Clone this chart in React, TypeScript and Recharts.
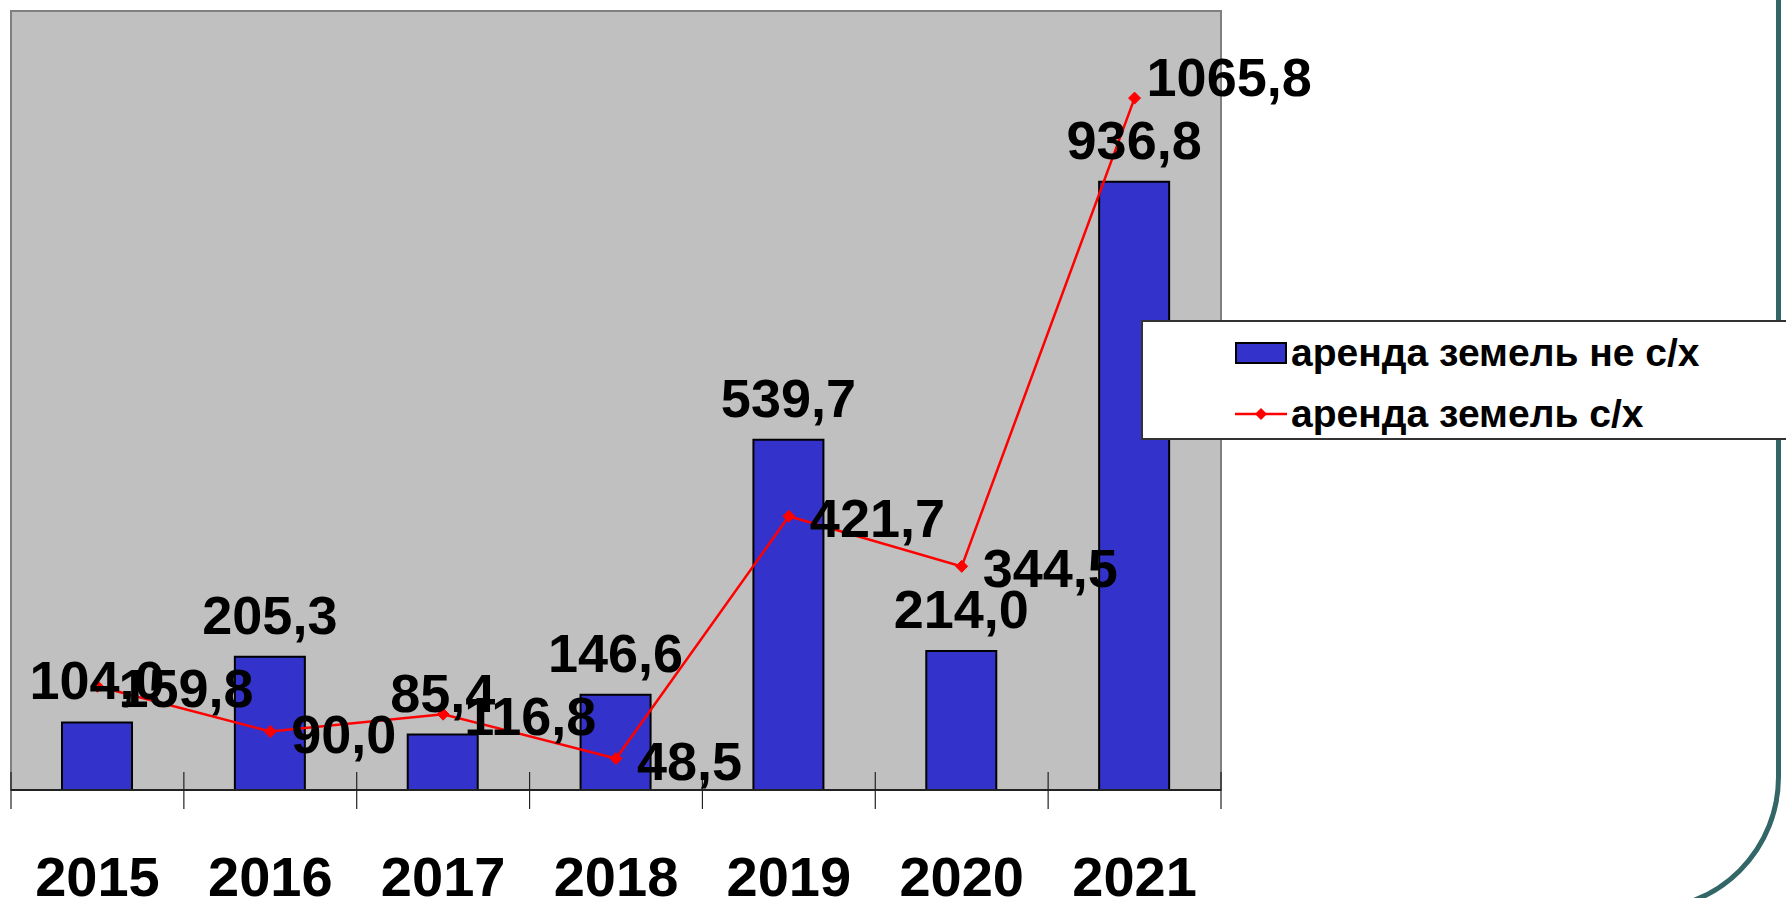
import React from 'react';
import { ComposedChart, Bar, Line, XAxis, YAxis, ReferenceArea, LabelList } from 'recharts';

const years = ['2015', '2016', '2017', '2018', '2019', '2020', '2021'];
const nonAgriRent = [104.0, 205.3, 85.4, 146.6, 539.7, 214.0, 936.8];
const agriRent = [159.8, 90.0, 116.8, 48.5, 421.7, 344.5, 1065.8];
const seriesNames = ['аренда земель не с/х', 'аренда земель с/х'];

const data = years.map((year, i) => ({ year, nonAgri: nonAgriRent[i], agri: agriRent[i] }));

const FONT = 'Arial, "Liberation Sans", sans-serif';
const BAR_BLUE = '#3333cc';
const RED = '#ff0000';

// decimal comma like in the original
const fmt = (v: number) => v.toFixed(1).replace('.', ',');

const BarValueLabel = (props: any) => {
    const { x, y, width, value } = props;
    return (
        <text x={x + width / 2} y={y - 23} textAnchor="middle" fontSize={54} fontWeight="bold" fill="#000" fontFamily={FONT}>
            {fmt(value)}
        </text>
    );
};

const LineValueLabel = (props: any) => {
    const { x, y, value, index } = props;
    const last = index === years.length - 1;
    return (
        <text x={x + (last ? 12 : 21)} y={y + (last ? -2 : 21)} textAnchor="start" fontSize={54} fontWeight="bold" fill="#000" fontFamily={FONT}>
            {fmt(value)}
        </text>
    );
};

const Diamond = (props: any) => {
    const { cx, cy, index } = props;
    if (cx == null || cy == null) return <g key={index} />;
    const r = 6;
    return <path key={index} d={`M${cx},${cy - r}L${cx + r},${cy}L${cx},${cy + r}L${cx - r},${cy}Z`} fill={RED} stroke={RED} />;
};

const YearTick = (props: any) => {
    const { x, y, payload, index, visibleTicksCount } = props;
    const half = payload.offset ?? 1210 / years.length / 2;
    const left = x - half;
    return (
        <g>
            <line x1={left} x2={left} y1={y - 18} y2={y + 19} stroke="#222" strokeWidth={1.2} />
            {index === visibleTicksCount - 1 && (
                <line x1={x + half} x2={x + half} y1={y - 18} y2={y + 19} stroke="#222" strokeWidth={1.2} />
            )}
            <text x={x} y={y + 86} textAnchor="middle" dominantBaseline="central" fontSize={56} fontWeight="bold" fill="#000" fontFamily={FONT}>
                {payload.value}
            </text>
        </g>
    );
};

const App: React.FC = () => {
    return (
        <div style={{ position: 'absolute', left: 0, top: 0, width: 1786, height: 898, overflow: 'hidden', background: '#fff' }}>
            {/* teal slide frame */}
            <div
                style={{
                    position: 'absolute',
                    left: -140,
                    top: -300,
                    width: 1921,
                    height: 1212,
                    boxSizing: 'border-box',
                    border: '5px solid #336666',
                    borderRadius: 135,
                }}
            />
            <ComposedChart width={1786} height={898} data={data} margin={{ top: 11, right: 565, left: 11, bottom: 0 }}>
                <YAxis hide domain={[0, 1200]} allowDataOverflow />
                <XAxis
                    dataKey="year"
                    height={108}
                    tickSize={0}
                    tickMargin={0}
                    tickLine={false}
                    axisLine={{ stroke: '#222', strokeWidth: 2 }}
                    tick={<YearTick />}
                    interval={0}
                />
                <ReferenceArea x1="2015" x2="2021" y1={0} y2={1200} fill="#c0c0c0" fillOpacity={1} stroke="#808080" strokeWidth={2} ifOverflow="visible" />
                <Bar dataKey="nonAgri" name={seriesNames[0]} fill={BAR_BLUE} stroke="#000" strokeWidth={2} barSize={70} isAnimationActive={false}>
                    <LabelList dataKey="nonAgri" content={<BarValueLabel />} />
                </Bar>
                <Line dataKey="agri" name={seriesNames[1]} stroke={RED} strokeWidth={2.5} dot={<Diamond />} activeDot={false} isAnimationActive={false}>
                    <LabelList dataKey="agri" content={<LineValueLabel />} />
                </Line>
            </ComposedChart>

            {/* legend box */}
            <div
                style={{
                    position: 'absolute',
                    left: 1141,
                    top: 320,
                    width: 700,
                    height: 120,
                    boxSizing: 'border-box',
                    border: '2px solid #333',
                    background: '#fff',
                    fontFamily: FONT,
                    fontWeight: 'bold',
                    fontSize: 39,
                    color: '#000',
                }}
            >
                <div style={{ position: 'absolute', left: 92, top: 9, height: 44, display: 'flex', alignItems: 'center', whiteSpace: 'nowrap' }}>
                    <span style={{ display: 'inline-block', width: 48, height: 18, background: BAR_BLUE, border: '2px solid #000', marginRight: 4 }} />
                    {seriesNames[0]}
                </div>
                <div style={{ position: 'absolute', left: 92, top: 70, height: 44, display: 'flex', alignItems: 'center', whiteSpace: 'nowrap' }}>
                    <svg width={52} height={14} style={{ marginRight: 4 }}>
                        <line x1={0} x2={52} y1={7} y2={7} stroke={RED} strokeWidth={2.5} />
                        <path d="M26,1L32,7L26,13L20,7Z" fill={RED} />
                    </svg>
                    {seriesNames[1]}
                </div>
            </div>
        </div>
    );
};

export default App;
